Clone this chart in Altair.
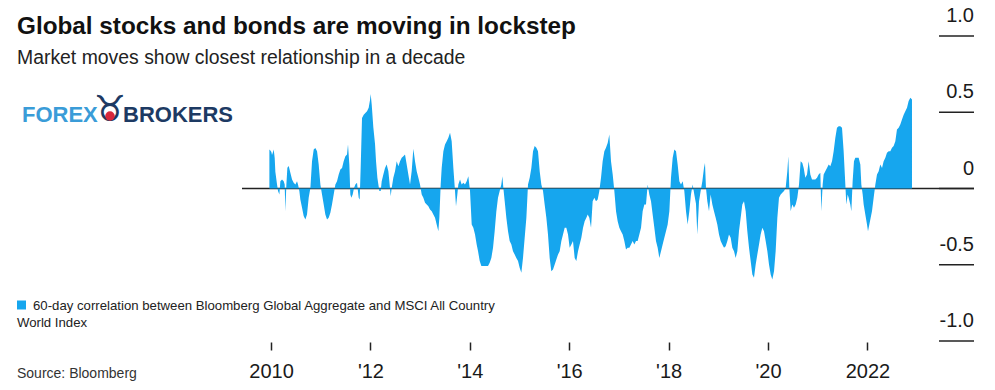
import json
import altair as alt
import pandas as pd

# ---------------- text ----------------
title_text = "Global stocks and bonds are moving in lockstep"
subtitle_text = "Market moves show closest relationship in a decade"
legend_line1 = "60-day correlation between Bloomberg Global Aggregate and MSCI All Country"
legend_line2 = "World Index"
source_text = "Source: Bloomberg"
logo_left = "FOREX"
logo_right = "BROKERS"

# ---------------- axes ----------------
x_ticks = [2010, 2012, 2014, 2016, 2018, 2020, 2022]
x_labels = ["2010", "'12", "'14", "'16", "'18", "'20", "2022"]
y_ticks = [-1.0, -0.5, 0.0, 0.5, 1.0]
y_labels = ["-1.0", "-0.5", "0", "0.5", "1.0"]

# ---------------- data: (decimal year, 60-day correlation) ----------------
seg_2010_2011 = [
    (2009.967, 0.256), (2009.987, 0.25), (2010.007, 0.24), (2010.020, 0.22), (2010.040, 0.24),
    (2010.054, 0.256), (2010.074, 0.20), (2010.087, 0.11), (2010.121, 0.026), (2010.141, -0.017),
    (2010.168, -0.04), (2010.188, 0.048), (2010.221, 0.059), (2010.255, 0.048), (2010.275, 0.026),
    (2010.288, -0.149), (2010.309, 0.026), (2010.329, 0.136), (2010.356, 0.148), (2010.389, 0.103),
    (2010.423, 0.059), (2010.456, 0.037), (2010.490, 0.026), (2010.523, 0.048), (2010.543, 0.026),
    (2010.570, -0.017), (2010.590, -0.072), (2010.624, -0.127), (2010.657, -0.181), (2010.691, -0.203),
    (2010.724, -0.17), (2010.758, -0.061), (2010.792, 0.004), (2010.825, 0.179), (2010.859, 0.256),
    (2010.892, 0.266), (2010.926, 0.245), (2010.959, 0.157), (2010.993, 0.026), (2011.026, -0.039),
    (2011.060, -0.105), (2011.093, -0.17), (2011.127, -0.203), (2011.160, -0.192), (2011.194, -0.159),
    (2011.227, -0.105), (2011.261, -0.039), (2011.295, 0.026), (2011.328, 0.048), (2011.362, 0.092),
    (2011.395, 0.124), (2011.429, 0.135), (2011.462, 0.179), (2011.496, 0.212), (2011.529, 0.223),
    (2011.549, 0.289), (2011.576, 0.157), (2011.596, -0.039), (2011.616, -0.061), (2011.643, -0.039),
    (2011.670, 0.004), (2011.697, 0.026), (2011.730, 0.037), (2011.764, -0.061), (2011.784, -0.072),
    (2011.804, 0.136), (2011.831, 0.463), (2011.865, 0.484), (2011.898, 0.495), (2011.932, 0.506),
    (2011.965, 0.529), (2011.992, 0.58),
]
seg_2012_2013 = [
    (2012.005, 0.62), (2012.026, 0.551), (2012.059, 0.40), (2012.093, 0.29), (2012.113, 0.179),
    (2012.140, 0.07), (2012.160, 0.026), (2012.180, -0.017), (2012.207, -0.017), (2012.227, 0.048),
    (2012.260, 0.092), (2012.294, 0.135), (2012.327, 0.157), (2012.361, 0.113), (2012.381, 0.048),
    (2012.408, -0.05), (2012.428, 0.004), (2012.461, 0.07), (2012.495, 0.113), (2012.529, 0.179),
    (2012.562, 0.146), (2012.596, 0.179), (2012.629, 0.201), (2012.663, 0.212), (2012.696, 0.223),
    (2012.730, 0.157), (2012.763, 0.092), (2012.797, 0.026), (2012.830, 0.113), (2012.864, 0.26),
    (2012.897, 0.179), (2012.931, 0.113), (2012.965, 0.07), (2012.998, 0.026), (2013.032, -0.039),
    (2013.065, -0.061), (2013.099, -0.094), (2013.132, -0.105), (2013.166, -0.116), (2013.199, -0.138),
    (2013.233, -0.149), (2013.266, -0.17), (2013.300, -0.192), (2013.333, -0.236), (2013.367, -0.28),
    (2013.387, -0.192), (2013.414, 0.026), (2013.434, 0.135), (2013.468, 0.245), (2013.501, 0.289),
    (2013.535, 0.31), (2013.568, 0.332), (2013.602, 0.365), (2013.635, 0.31), (2013.669, 0.135),
    (2013.702, -0.017), (2013.722, -0.116), (2013.749, -0.039), (2013.769, 0.026), (2013.803, 0.059),
    (2013.836, 0.026), (2013.870, 0.037), (2013.903, 0.026), (2013.937, 0.048), (2013.970, 0.081),
]
seg_2014_2015 = [
    (2014.004, -0.017), (2014.038, -0.236), (2014.071, -0.258), (2014.105, -0.301), (2014.138, -0.367),
    (2014.165, -0.41), (2014.199, -0.476), (2014.232, -0.509), (2014.266, -0.509), (2014.299, -0.509),
    (2014.333, -0.509), (2014.366, -0.509), (2014.400, -0.487), (2014.433, -0.455), (2014.467, -0.389),
    (2014.500, -0.280), (2014.534, -0.149), (2014.567, -0.061), (2014.601, -0.017), (2014.634, 0.026),
    (2014.655, 0.081), (2014.675, 0.004), (2014.702, -0.083), (2014.735, -0.192), (2014.769, -0.280),
    (2014.802, -0.345), (2014.836, -0.367), (2014.869, -0.411), (2014.903, -0.433), (2014.936, -0.455),
    (2014.970, -0.476), (2015.003, -0.520), (2015.037, -0.553), (2015.070, -0.455), (2015.104, -0.323),
    (2015.138, -0.192), (2015.171, 0.026), (2015.205, 0.07), (2015.238, 0.135), (2015.272, 0.245),
    (2015.305, 0.278), (2015.339, 0.267), (2015.372, 0.245), (2015.406, 0.113), (2015.439, 0.026),
    (2015.473, -0.017), (2015.506, -0.105), (2015.540, -0.192), (2015.573, -0.301), (2015.607, -0.455),
    (2015.640, -0.542), (2015.674, -0.531), (2015.708, -0.498), (2015.741, -0.465), (2015.775, -0.433),
    (2015.808, -0.411), (2015.842, -0.345), (2015.875, -0.301), (2015.909, -0.258), (2015.942, -0.258),
    (2015.976, -0.301),
]
seg_2016_2017 = [
    (2016.009, -0.389), (2016.043, -0.367), (2016.076, -0.345), (2016.110, -0.455), (2016.143, -0.476),
    (2016.177, -0.411), (2016.210, -0.367), (2016.244, -0.323), (2016.278, -0.258), (2016.311, -0.214),
    (2016.345, -0.192), (2016.372, -0.170), (2016.405, -0.192), (2016.439, -0.258), (2016.472, -0.083),
    (2016.506, -0.061), (2016.539, -0.083), (2016.573, -0.072), (2016.606, -0.017), (2016.640, 0.07),
    (2016.673, 0.179), (2016.707, 0.245), (2016.740, 0.267), (2016.774, 0.299), (2016.807, 0.354),
    (2016.841, 0.179), (2016.875, 0.092), (2016.908, -0.017), (2016.942, -0.149), (2016.975, -0.214),
    (2017.009, -0.258), (2017.042, -0.280), (2017.076, -0.301), (2017.109, -0.345), (2017.143, -0.400),
    (2017.176, -0.389), (2017.210, -0.389), (2017.243, -0.367), (2017.277, -0.345), (2017.310, -0.367),
    (2017.344, -0.345), (2017.377, -0.345), (2017.411, -0.301), (2017.445, -0.258), (2017.478, -0.149),
    (2017.512, -0.105), (2017.545, -0.105), (2017.579, 0.026), (2017.612, -0.039), (2017.646, -0.083),
    (2017.679, -0.170), (2017.713, -0.258), (2017.746, -0.345), (2017.780, -0.389), (2017.813, -0.455),
    (2017.847, -0.411), (2017.880, -0.367), (2017.914, -0.323), (2017.947, -0.280), (2017.981, -0.236),
]
seg_2018_2019 = [
    (2018.015, -0.149), (2018.048, 0.07), (2018.082, 0.201), (2018.115, 0.256), (2018.149, 0.245),
    (2018.182, 0.157), (2018.216, 0.048), (2018.249, 0.026), (2018.283, 0.048), (2018.316, -0.017),
    (2018.350, -0.149), (2018.383, -0.236), (2018.417, -0.149), (2018.450, -0.039), (2018.484, 0.026),
    (2018.517, -0.039), (2018.551, -0.10), (2018.578, -0.301), (2018.612, -0.083), (2018.645, -0.017),
    (2018.679, 0.048), (2018.712, 0.135), (2018.732, 0.168), (2018.752, 0.004), (2018.779, -0.083),
    (2018.813, -0.149), (2018.846, -0.039), (2018.880, -0.105), (2018.913, -0.149), (2018.947, -0.192),
    (2018.980, -0.236), (2019.014, -0.301), (2019.048, -0.345), (2019.081, -0.367), (2019.115, -0.389),
    (2019.148, -0.378), (2019.182, -0.345), (2019.215, -0.301), (2019.249, -0.323), (2019.282, -0.389),
    (2019.316, -0.411), (2019.349, -0.455), (2019.383, -0.411), (2019.416, -0.280), (2019.450, -0.192),
    (2019.483, -0.105), (2019.517, -0.083), (2019.551, -0.149), (2019.584, -0.280), (2019.618, -0.389),
    (2019.651, -0.476), (2019.685, -0.564), (2019.718, -0.586), (2019.752, -0.498), (2019.785, -0.433),
    (2019.819, -0.367), (2019.852, -0.301), (2019.886, -0.258), (2019.919, -0.280), (2019.953, -0.345),
    (2019.987, -0.411),
]
seg_2020_2021 = [
    (2020.020, -0.498), (2020.054, -0.564), (2020.087, -0.597), (2020.121, -0.542), (2020.154, -0.411),
    (2020.188, -0.192), (2020.221, -0.061), (2020.255, -0.039), (2020.288, -0.028), (2020.322, -0.017),
    (2020.355, 0.004), (2020.389, 0.113), (2020.409, 0.212), (2020.429, 0.004), (2020.456, -0.149),
    (2020.489, -0.105), (2020.523, -0.127), (2020.557, -0.105), (2020.590, -0.061), (2020.624, 0.026),
    (2020.657, 0.179), (2020.691, 0.168), (2020.718, 0.135), (2020.751, 0.07), (2020.785, 0.092),
    (2020.818, 0.179), (2020.852, 0.092), (2020.885, 0.059), (2020.919, 0.059), (2020.952, 0.059),
    (2020.986, 0.07), (2021.019, 0.092), (2021.053, 0.103), (2021.073, -0.149), (2021.100, 0.026),
    (2021.120, 0.092), (2021.153, 0.113), (2021.187, 0.135), (2021.221, 0.157), (2021.254, 0.146),
    (2021.288, 0.179), (2021.321, 0.245), (2021.355, 0.332), (2021.388, 0.398), (2021.422, 0.409),
    (2021.455, 0.409), (2021.489, 0.398), (2021.522, 0.245), (2021.556, 0.026), (2021.576, -0.105),
    (2021.603, -0.039), (2021.623, -0.061), (2021.656, -0.105), (2021.677, -0.149), (2021.703, 0.048),
    (2021.730, 0.179), (2021.757, 0.201), (2021.791, 0.201), (2021.824, 0.201), (2021.858, 0.157),
    (2021.878, 0.026), (2021.905, -0.039), (2021.925, -0.105), (2021.958, -0.170), (2021.992, -0.236),
]
seg_2022 = [
    (2022.012, -0.280), (2022.039, -0.236), (2022.066, -0.192), (2022.092, -0.149), (2022.126, -0.061),
    (2022.160, 0.026), (2022.193, 0.092), (2022.227, 0.113), (2022.260, 0.157), (2022.294, 0.135),
    (2022.327, 0.179), (2022.361, 0.201), (2022.394, 0.234), (2022.428, 0.245), (2022.461, 0.245),
    (2022.495, 0.267), (2022.528, 0.278), (2022.562, 0.310), (2022.595, 0.387), (2022.629, 0.398),
    (2022.662, 0.420), (2022.696, 0.452), (2022.730, 0.484), (2022.763, 0.506), (2022.797, 0.529),
    (2022.830, 0.573), (2022.864, 0.595), (2022.897, 0.584),
]

segments = [seg_2010_2011, seg_2012_2013, seg_2014_2015, seg_2016_2017,
            seg_2018_2019, seg_2020_2021, seg_2022]
df = pd.DataFrame([p for s in segments for p in s], columns=["year", "corr"])
ydf = pd.DataFrame({"v": y_ticks, "lab": y_labels})

# ---------------- styling ----------------
FONT = "Liberation Sans"
BLUE = "#16a6ee"
INK = "#1a1a1a"
W, H = 732, 305


def label_expr(ticks, labels):
    e = "''"
    for t, l in zip(ticks, labels):
        e = f"datum.value == {t} ? {json.dumps(l)} : ({e})"
    return e


xscale = alt.Scale(domain=[2009.416, 2024.145], nice=False, zero=False)
yscale = alt.Scale(domain=[-1.0, 1.0], nice=False, zero=False)

xaxis = alt.Axis(values=x_ticks, labelExpr=label_expr(x_ticks, x_labels), orient="bottom",
                 offset=1, tickSize=8, tickWidth=1.5, tickColor="#222", domain=False, grid=False,
                 labelFont=FONT, labelFontSize=20, labelColor=INK, labelBaseline="alphabetic",
                 labelPadding=27, labelAlign="center", labelFlush=False, labelOverlap=False,
                 title=None)

zero_rule = alt.Chart(pd.DataFrame({"v": [0.0]})).mark_rule(
    color="#222", strokeWidth=1.5
).encode(y=alt.Y("v:Q", scale=yscale, axis=None))

area = alt.Chart(df).mark_area(color=BLUE, opacity=1, interpolate="linear").encode(
    x=alt.X("year:Q", scale=xscale, axis=xaxis),
    y=alt.Y("corr:Q", scale=yscale, axis=None),
    y2=alt.datum(0),
)

# right-hand value scale: short rules with labels above them
y_rules = alt.Chart(ydf).mark_rule(color="#222", strokeWidth=1.5).encode(
    y=alt.Y("v:Q", scale=yscale, axis=None),
    x=alt.value(697), x2=alt.value(732),
)
y_text = alt.Chart(ydf).mark_text(
    font=FONT, fontSize=20, color=INK, align="right", baseline="alphabetic", dy=-14
).encode(
    y=alt.Y("v:Q", scale=yscale, axis=None),
    x=alt.value(732),
    text="lab:N",
)


def text_layer(txt, x, y, size, color=INK, weight="normal", font=FONT, align="left",
               baseline="alphabetic"):
    return alt.Chart(pd.DataFrame({"t": [txt]})).mark_text(
        font=font, fontSize=size, fontWeight=weight, color=color, align=align,
        baseline=baseline
    ).encode(text="t:N", x=alt.value(x), y=alt.value(y))


title = text_layer(title_text, -225, -2, 24.3, color="#111111", weight="bold")
subtitle = text_layer(subtitle_text, -225, 28, 19.4, color="#222222")
legend_txt1 = text_layer(legend_line1, -209, 274, 13.2, color="#222222")
legend_txt2 = text_layer(legend_line2, -225, 291, 13.2, color="#222222")
source = text_layer(source_text, -225, 342, 14, color="#333333")
logo1 = text_layer(logo_left, -220, 86, 22, color="#3a9cd8", weight="bold")
logo2 = text_layer(logo_right, -119, 86, 22, color="#1d3a63", weight="bold")
logo_icon = text_layer("\u2649", -132, 74, 36, color="#1d3a63", font="DejaVu Sans",
                       align="center", baseline="middle")
logo_dot = alt.Chart(pd.DataFrame({"t": ["dot"]})).mark_point(
    filled=True, color="#d7283c", size=90, opacity=1
).encode(x=alt.value(-132), y=alt.value(80))

legend_sq = alt.Chart(pd.DataFrame({"t": ["sq"]})).mark_square(
    size=81, color=BLUE, opacity=1
).encode(x=alt.value(-220.5), y=alt.value(269))

chart = alt.layer(
    zero_rule, area, y_rules, y_text, title, subtitle, logo1, logo2, logo_icon, logo_dot,
    legend_sq, legend_txt1, legend_txt2, source
).properties(
    width=W, height=H,
    padding={"left": 234, "top": 28, "right": 13, "bottom": 41},
    autosize=alt.AutoSizeParams(type="none"),
).configure_view(stroke=None)

chart.save("out.html", embed_options={"renderer": "svg", "actions": False})
